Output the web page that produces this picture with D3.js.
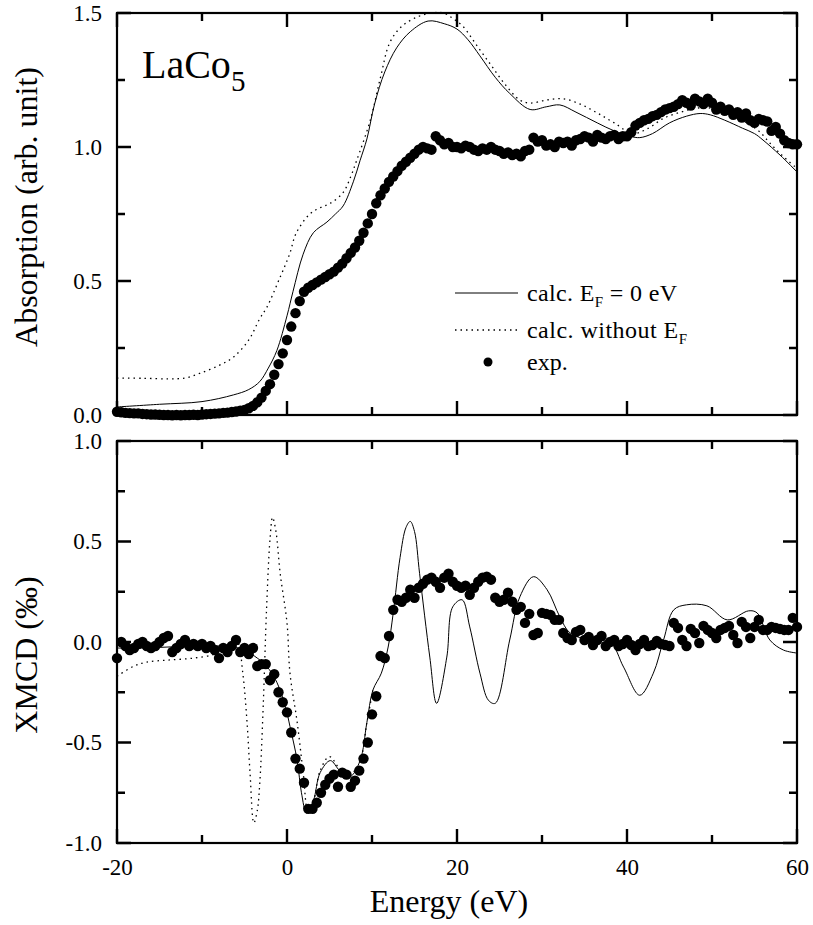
<!DOCTYPE html>
<html>
<head>
<meta charset="utf-8">
<script src="https://cdn.jsdelivr.net/npm/d3@7"></script>
<style>
  body { margin: 0; background: #fff; }
  svg text { font-family: "Liberation Serif", "Times New Roman", serif; fill: #000; }
</style>
</head>
<body>
<div id="chart"></div>
<script>
/**
 * DATA
 * */
const xTicksMajor = [-20, 0, 20, 40, 60],
  xTicksMinor = [-10, 10, 30, 50];
const absTicksMajor = [0, 0.5, 1.0, 1.5],
  absTicksMinor = [0.25, 0.75, 1.25];
const xmcdTicksMajor = [-1.0, -0.5, 0, 0.5, 1.0],
  xmcdTicksMinor = [-0.75, -0.25, 0.25, 0.75];

// absorption, calc. EF = 0 eV  [energy, value]
const absCalc = [[-20,0.03],[-15,0.04],[-10,0.05],[-6.3,0.075],[-4.5,0.095],[-3.2,0.125],[-2.2,0.175],
  [-1.2,0.24],[0,0.37],[0.7,0.46],[1.9,0.60],[3.1,0.68],[4.7,0.72],[5.7,0.75],[6.6,0.78],[7.8,0.87],
  [8.6,0.95],[9.4,1.03],[10.3,1.16],[11.5,1.28],[12.9,1.37],[14.5,1.43],[16.6,1.47],[18.5,1.46],
  [20,1.44],[21.3,1.40],[22.7,1.34],[24.5,1.26],[26.2,1.20],[28.6,1.14],[30.5,1.15],[32.1,1.157],
  [34,1.13],[36.5,1.09],[38.5,1.06],[40.4,1.04],[41.5,1.035],[43,1.05],[45,1.09],[47,1.115],
  [48.6,1.125],[49.8,1.12],[51.5,1.10],[53.6,1.07],[55,1.05],[56,1.026],[58,0.97],[60,0.907]];

// absorption, calc. without EF
const absNoEF = [[-20,0.138],[-17,0.137],[-14,0.135],[-12,0.138],[-10.2,0.156],[-8,0.185],[-6.3,0.216],
  [-4.5,0.28],[-3.2,0.36],[-2.4,0.40],[-0.8,0.515],[0.3,0.60],[1.1,0.68],[2.7,0.75],[4,0.775],
  [5.1,0.79],[6.6,0.83],[7.5,0.89],[8.2,0.95],[9.8,1.10],[11,1.26],[12.1,1.39],[13.5,1.45],
  [15.3,1.485],[17,1.50],[18.4,1.50],[19.5,1.48],[20.7,1.45],[22.3,1.38],[23.9,1.31],[25.5,1.24],
  [27.4,1.175],[28.6,1.164],[30.5,1.175],[32.5,1.18],[34.5,1.16],[36.5,1.127],[38.5,1.09],
  [40.7,1.05],[42.5,1.07],[44.3,1.107],[46.3,1.13],[48.2,1.145],[49.8,1.145],[52,1.12],
  [54.1,1.09],[55.5,1.06],[56.8,1.015],[58.2,0.97],[60,0.92]];

// absorption, experiment
const absExp = [[-20,0.012],[-19.5,0.010],[-19,0.008],[-18.5,0.007],[-18,0.006],[-17.5,0.006],[-17,0.004],
  [-16.5,0.003],[-16,0.002],[-15.5,0.002],[-15,0.001],[-14.5,0],[-14,0],[-13.5,-0.001],[-13,0],
  [-12.5,-0.001],[-12,0],[-11.5,0],[-11,0.001],[-10.5,0],[-10,0.002],[-9.5,0.003],[-9,0.004],
  [-8.5,0.005],[-8,0.006],[-7.5,0.008],[-7,0.009],[-6.5,0.011],[-6,0.013],[-5.5,0.016],[-5,0.019],
  [-4.5,0.025],[-4,0.034],[-3.5,0.047],[-3,0.065],[-2.5,0.09],[-2,0.115],[-1.5,0.15],[-1,0.19],
  [-0.5,0.23],[0,0.28],[0.5,0.33],[1,0.38],[1.5,0.425],[2,0.46],[2.5,0.475],[3,0.485],[3.5,0.495],
  [4,0.505],[4.5,0.515],[5,0.525],[5.5,0.535],[6,0.55],[6.5,0.565],[7,0.585],[7.5,0.605],[8,0.625],
  [8.5,0.65],[9,0.68],[9.5,0.715],[10,0.75],[10.5,0.79],[11,0.82],[11.5,0.845],[12,0.87],[12.5,0.89],
  [13,0.91],[13.5,0.93],[14,0.945],[14.5,0.96],[15,0.975],[15.5,0.99],[16,1.0],[16.5,0.995],[17,0.99],
  [17.5,1.04],[18,1.025],[18.5,1.01],[19,1.015],[19.5,1.0],[20,1.0],[20.5,0.995],[21,1.005],[21.5,1.0],
  [22,0.99],[22.5,0.985],[23,0.995],[23.5,0.99],[24,1.0],[24.5,0.99],[25,0.985],[25.5,0.975],[26,0.98],
  [26.5,0.97],[27,0.975],[27.5,0.965],[28,0.985],[28.5,0.99],[29,1.035],[29.5,1.02],[30,1.025],
  [30.5,1.005],[31,1.01],[31.5,1.0],[32,1.02],[32.5,1.015],[33,1.02],[33.5,1.005],[34,1.025],
  [34.5,1.03],[35,1.04],[35.5,1.035],[36,1.02],[36.5,1.045],[37,1.035],[37.5,1.03],[38,1.04],
  [38.5,1.045],[39,1.03],[39.5,1.04],[40,1.04],[40.5,1.055],[41,1.08],[41.5,1.09],[42,1.1],[42.5,1.105],
  [43,1.115],[43.5,1.12],[44,1.13],[44.5,1.14],[45,1.145],[45.5,1.15],[46,1.16],[46.5,1.175],
  [47,1.165],[47.5,1.155],[48,1.18],[48.5,1.17],[49,1.16],[49.5,1.18],[50,1.165],[50.5,1.14],
  [51,1.15],[51.5,1.135],[52,1.14],[52.5,1.12],[53,1.13],[53.5,1.11],[54,1.125],[54.5,1.1],[55,1.09],
  [55.5,1.105],[56,1.1],[56.5,1.095],[57,1.06],[57.5,1.075],[58,1.05],[58.5,1.025],[59,1.015],
  [59.5,1.01],[60,1.01]];

// XMCD, calc. EF = 0 eV
const xmcdCalc = [[-20,-0.03],[-17,-0.03],[-14,-0.025],[-11,-0.02],[-8,-0.02],[-6.3,-0.025],[-5,-0.04],
  [-3.5,-0.08],[-2.4,-0.12],[-1.2,-0.20],[-0.2,-0.32],[0.35,-0.42],[1.2,-0.59],[1.7,-0.75],[2.3,-0.85],
  [3.1,-0.79],[3.9,-0.65],[5.1,-0.59],[6.2,-0.64],[7.4,-0.67],[8.6,-0.59],[9.4,-0.40],[10.1,-0.24],
  [11.1,-0.155],[11.9,-0.025],[12.5,0.145],[13.3,0.42],[14,0.57],[14.5,0.60],[15,0.55],[15.6,0.34],
  [16.8,-0.075],[17.6,-0.305],[18.8,-0.075],[19.5,0.175],[20.6,0.21],[21.5,0.075],[22.7,-0.155],
  [23.7,-0.29],[24.5,-0.305],[26.2,0.01],[27.4,0.225],[29,0.325],[30.6,0.26],[32.1,0.125],[33.3,0.045],
  [35.6,0.01],[38,0.0],[39.6,-0.125],[41.5,-0.265],[43.1,-0.155],[44.3,0.01],[45.5,0.16],[47,0.185],
  [49.4,0.18],[51.8,0.11],[54.3,0.155],[55.3,0.145],[56.8,0.01],[58.4,-0.04],[60,-0.055]];

// XMCD, calc. without EF
const xmcdNoEF = [[-20,-0.17],[-18,-0.12],[-16.5,-0.10],[-14,-0.09],[-11,-0.08],[-8.5,-0.06],[-7,-0.02],
  [-6.3,0.01],[-5.8,0.0],[-5.2,-0.155],[-4.7,-0.40],[-4.35,-0.65],[-3.9,-0.90],[-3.5,-0.84],[-3.2,-0.70],
  [-2.8,-0.32],[-2.4,0.17],[-2.0,0.51],[-1.7,0.62],[-1.3,0.55],[-0.8,0.34],[0,0.095],[0.35,-0.155],
  [1.2,-0.40],[1.9,-0.65],[2.5,-0.85],[3.1,-0.80],[3.9,-0.64],[5.0,-0.57],[6.2,-0.63],[7.4,-0.66],
  [8.6,-0.59],[9.4,-0.40],[10.1,-0.24]];

// XMCD, experiment
const xmcdExp = [[-20,-0.08],[-19.5,0.0],[-19,-0.02],[-18.5,-0.04],[-18,-0.03],[-17.5,-0.01],[-17,0.0],
  [-16.5,-0.02],[-16,-0.03],[-15.5,-0.02],[-15,0.0],[-14.5,0.02],[-14,0.03],[-13.5,-0.05],[-13,-0.03],
  [-12.5,-0.01],[-12,0.01],[-11.5,-0.02],[-11,-0.01],[-10.5,-0.02],[-10,-0.01],[-9.5,-0.03],[-9,-0.02],
  [-8.5,-0.04],[-8,-0.08],[-7.5,-0.03],[-7,-0.05],[-6.5,-0.02],[-6,0.01],[-5.5,-0.05],[-5,-0.03],
  [-4.5,-0.06],[-4,-0.03],[-3.5,-0.12],[-3,-0.11],[-2.5,-0.11],[-2,-0.19],[-1.5,-0.16],[-1,-0.25],
  [-0.5,-0.30],[0,-0.35],[0.5,-0.45],[1,-0.58],[1.5,-0.63],[2,-0.70],[2.5,-0.83],[3,-0.83],[3.5,-0.80],
  [4,-0.75],[4.5,-0.71],[5,-0.68],[5.5,-0.66],[6,-0.72],[6.5,-0.65],[7,-0.66],[7.5,-0.72],[8,-0.69],
  [8.5,-0.64],[9,-0.58],[9.5,-0.50],[10,-0.36],[10.5,-0.27],[11,-0.07],[11.5,-0.08],[12,0.03],
  [12.5,0.16],[13,0.21],[13.5,0.20],[14,0.22],[14.5,0.26],[15,0.22],[15.5,0.27],[16,0.29],[16.5,0.31],
  [17,0.32],[17.5,0.30],[18,0.27],[18.5,0.32],[19,0.34],[19.5,0.30],[20,0.28],[20.5,0.27],[21,0.28],
  [21.5,0.235],[22,0.27],[22.5,0.30],[23,0.32],[23.5,0.325],[24,0.31],[24.5,0.22],[25,0.20],[25.5,0.21],
  [26,0.245],[26.5,0.20],[27,0.16],[27.5,0.175],[28,0.095],[28.5,0.14],[29,0.035],[29.5,0.045],
  [30,0.145],[30.5,0.14],[31,0.135],[31.5,0.11],[32,0.11],[32.5,0.045],[33,0.02],[33.5,0.01],
  [34,0.05],[34.5,0.06],[35,0.01],[35.5,0.025],[36,-0.015],[36.5,0.01],[37,0.03],[37.5,-0.02],
  [38,0.0],[38.5,0.01],[39,-0.02],[39.5,-0.01],[40,0.01],[40.5,-0.015],[41,-0.04],[41.5,-0.01],
  [42,0.01],[42.5,-0.02],[43,-0.015],[43.5,0.005],[44,-0.01],[44.5,-0.015],[45,-0.02],[45.5,0.095],
  [46,0.07],[46.5,0.01],[47,-0.02],[47.5,0.065],[48,0.045],[48.5,-0.005],[49,0.08],[49.5,0.06],
  [50,0.045],[50.5,0.02],[51,0.06],[51.5,0.07],[52,0.08],[52.5,0.035],[53,-0.005],[53.5,0.1],
  [54,0.075],[54.5,0.02],[55,0.075],[55.5,0.11],[56,0.06],[56.5,0.06],[57,0.075],[57.5,0.07],
  [58,0.065],[58.5,0.06],[59,0.06],[59.5,0.12],[60,0.075]];

/**
 * CONSTANTS
 * */
const width = 813, height = 925;
const plotLeft = 117, plotRight = 797;
const topPanel = { top: 13, bottom: 415 },
  botPanel = { top: 441, bottom: 843 };
const fontTick = 23, fontTitle = 32;
const majorLen = 14, minorLen = 8;

const svg = d3.select("#chart").append("svg")
  .attr("width", width)
  .attr("height", height);

/* SCALES */
const x = d3.scaleLinear().domain([-20, 60]).range([plotLeft, plotRight]);
const yAbs = d3.scaleLinear().domain([0, 1.5]).range([topPanel.bottom, topPanel.top]);
const yXmcd = d3.scaleLinear().domain([-1, 1]).range([botPanel.bottom, botPanel.top]);

const fmt = d => d.toFixed(1);

/* AXES + FRAME */
function drawFrame(y, panel, majors, minors, showXLabels) {
  const g = svg.append("g");

  const yAx = g.append("g").attr("transform", `translate(${plotLeft},0)`)
    .call(d3.axisLeft(y).tickValues(majors).tickSize(0).tickPadding(15).tickFormat(fmt));
  yAx.select(".domain").remove();
  yAx.selectAll("text").attr("font-size", fontTick).attr("font-family", null);

  if (showXLabels) {
    const xAx = g.append("g").attr("transform", `translate(0,${panel.bottom})`)
      .call(d3.axisBottom(x).tickValues(xTicksMajor).tickSize(0).tickPadding(16).tickFormat(d => String(d)));
    xAx.select(".domain").remove();
    xAx.selectAll("text").attr("font-size", fontTick).attr("font-family", null);
  }

  // inward tick marks on all four sides
  const xt = xTicksMajor.map(v => [v, majorLen]).concat(xTicksMinor.map(v => [v, minorLen]));
  const yt = majors.map(v => [v, majorLen]).concat(minors.map(v => [v, minorLen]));
  let d = "";
  xt.forEach(([v, len]) => {
    d += `M${x(v)},${panel.bottom}v${-len}M${x(v)},${panel.top}v${len}`;
  });
  yt.forEach(([v, len]) => {
    d += `M${plotLeft},${y(v)}h${len}M${plotRight},${y(v)}h${-len}`;
  });
  g.append("path")
    .attr("class", "ticks")
    .attr("d", d)
    .attr("fill", "none")
    .attr("stroke", "#000")
    .attr("stroke-width", 2.4);

  g.append("rect")
    .attr("x", plotLeft).attr("y", panel.top)
    .attr("width", plotRight - plotLeft).attr("height", panel.bottom - panel.top)
    .attr("fill", "none").attr("stroke", "#000").attr("stroke-width", 2.2);
}

/* CURVES */
function drawCurve(data, y, dashed) {
  const line = d3.line().x(d => x(d[0])).y(d => y(d[1])).curve(d3.curveCatmullRom.alpha(0.5));
  svg.append("path").datum(data)
    .attr("d", line)
    .attr("fill", "none")
    .attr("stroke", "#000")
    .attr("stroke-width", dashed ? 1.3 : 1)
    .attr("stroke-dasharray", dashed ? "1.5,4" : null);
}
function drawDots(data, y) {
  svg.append("g").selectAll("circle")
    .data(data)
    .join("circle")
    .attr("cx", d => x(d[0]))
    .attr("cy", d => y(d[1]))
    .attr("r", 5.2)
    .attr("fill", "#000");
}

drawCurve(absNoEF, yAbs, true);
drawCurve(absCalc, yAbs, false);
drawDots(absExp, yAbs);

drawCurve(xmcdNoEF, yXmcd, true);
drawCurve(xmcdCalc, yXmcd, false);
drawDots(xmcdExp, yXmcd);

drawFrame(yAbs, topPanel, absTicksMajor, absTicksMinor, false);
drawFrame(yXmcd, botPanel, xmcdTicksMajor, xmcdTicksMinor, true);

/* TITLES */
svg.append("text")
  .attr("transform", `translate(37,207) rotate(-90)`)
  .attr("text-anchor", "middle")
  .attr("font-size", fontTitle)
  .text("Absorption (arb. unit)");

svg.append("text")
  .attr("transform", `translate(37,655) rotate(-90)`)
  .attr("text-anchor", "middle")
  .attr("font-size", fontTitle)
  .text("XMCD (‰)");

svg.append("text")
  .attr("x", 449)
  .attr("y", 912)
  .attr("text-anchor", "middle")
  .attr("font-size", fontTitle)
  .text("Energy (eV)");

const lbl = svg.append("text").attr("x", 142).attr("y", 78).attr("font-size", 40);
lbl.append("tspan").text("LaCo");
lbl.append("tspan").attr("font-size", 29).attr("dy", 13).text("5");

/* LEGEND */
const legend = svg.append("g");
const legendRows = [
  { type: "solid", y: 293, main: "calc. E", sub: "F", rest: " = 0 eV", len: 150 },
  { type: "dotted", y: 330, main: "calc. without E", sub: "F", rest: "", len: 160 },
  { type: "dot", y: 362, main: "exp.", sub: "", rest: "", len: null }
];
legendRows.forEach(r => {
  if (r.type === "dot") {
    legend.append("circle").attr("cx", 488).attr("cy", r.y).attr("r", 4.5).attr("fill", "#000");
  } else {
    legend.append("line").attr("x1", 455).attr("x2", 518).attr("y1", r.y).attr("y2", r.y)
      .attr("stroke", "#000").attr("stroke-width", r.type === "dotted" ? 1.3 : 1)
      .attr("stroke-dasharray", r.type === "dotted" ? "1.5,4" : null);
  }
  const t = legend.append("text").attr("x", 527).attr("y", r.y + 8).attr("font-size", 24);
  if (r.len) t.attr("textLength", r.len).attr("lengthAdjust", "spacing");
  t.append("tspan").text(r.main);
  if (r.sub) {
    t.append("tspan").attr("font-size", 15).attr("dy", 6).text(r.sub);
    t.append("tspan").attr("dy", -6).text(r.rest);
  }
});
</script>
</body>
</html>
